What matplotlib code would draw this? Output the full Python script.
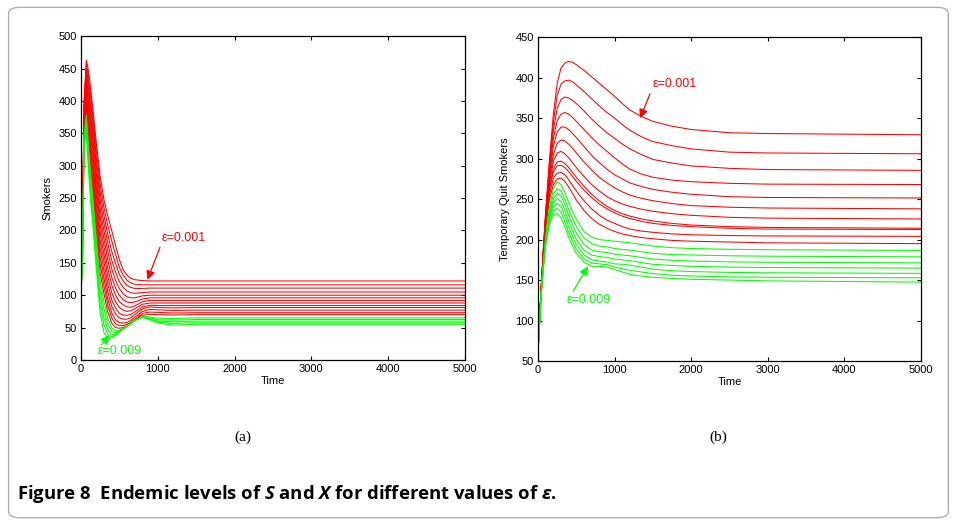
"""
Endemic levels of smokers S and temporary quit smokers X for several epsilon values
"""

import matplotlib
matplotlib.use('Agg')
import matplotlib.pyplot as plt
from matplotlib.patches import FancyBboxPatch

### values ###

# panel (a): smokers, time grid shared by every curve
time_a = [0, 20, 40, 70, 100, 130, 160, 200, 250, 300, 350, 400, 450, 500,
          550, 600, 650, 700, 800, 900, 1000, 1200, 1500, 2000, 5000]

smokers_red = [
    [100, 210, 400, 463, 445, 415, 382, 335, 283, 247, 222, 200, 177, 155, 139, 131, 126, 124, 122.5, 122, 122, 122, 122, 122, 122],
    [100, 206, 396, 456, 436, 405, 371, 324, 271, 235, 207, 184, 163, 143, 131, 123, 119, 117, 116, 116, 116, 116, 116, 116, 116],
    [100, 203, 392, 450, 427, 394, 361, 312, 258, 223, 193, 168, 149, 132, 122, 115, 112, 110.5, 110.5, 111, 111, 111, 111, 111, 111],
    [100, 199, 388, 443, 418, 384, 350, 301, 246, 211, 180, 154, 136, 121, 112, 106.5, 104, 103, 104, 105, 105, 105, 105, 105, 105],
    [100, 196, 384, 437, 409, 373, 339, 289, 233, 199, 167, 141, 123, 110, 102, 97.5, 96, 96, 99, 100, 100, 100, 100, 100, 100],
    [100, 192, 380, 430, 399, 363, 329, 278, 221, 187, 154, 128, 111, 100, 93, 89.5, 88.5, 89.5, 94, 96, 96, 96, 96, 96, 96],
    [100, 189, 376, 424, 390, 353, 318, 266, 209, 175, 141, 116, 100, 90, 85, 82, 81.5, 83.5, 90, 92, 92, 92, 92, 92, 92],
    [100, 185, 371, 417, 381, 342, 307, 255, 196, 163, 129, 104, 90, 81, 77, 75, 76, 79, 86, 88, 88, 88, 88, 88, 88],
    [100, 182, 367, 411, 372, 332, 297, 243, 184, 151, 117, 93, 80, 72, 69.5, 69, 70.5, 74, 82, 84.5, 84, 84, 84, 84, 84],
    [100, 178, 363, 404, 363, 321, 286, 232, 171, 138, 105, 83, 71, 65, 63, 63, 65.5, 70, 79, 82, 81, 80.5, 81, 81, 81],
    [100, 175, 359, 398, 354, 311, 275, 220, 159, 126, 94, 73, 62, 58, 57, 58, 61.5, 66, 75, 78, 77.5, 76.5, 77, 77, 77],
    [100, 171, 355, 391, 345, 301, 265, 209, 147, 114, 84, 65, 56, 53, 53, 55, 58.5, 63, 72, 74, 73.5, 72.5, 73, 73, 73],
    [100, 168, 351, 385, 336, 290, 254, 197, 134, 102, 74, 57, 50, 49, 50, 53, 57, 62, 69, 70.5, 70, 69.5, 70, 70, 70],
]

smokers_green = [
    [100, 164, 347, 378, 327, 280, 243, 186, 122, 90, 64, 50, 45, 46, 48.5, 52, 56.5, 61, 67, 66.5, 64.5, 64, 65, 65, 65],
    [100, 161, 343, 372, 317, 269, 233, 174, 109, 78, 55, 44, 42, 45, 48, 52, 56.5, 61, 66.5, 65, 62, 61.5, 62.5, 62.5, 62.5],
    [100, 157, 339, 365, 308, 259, 222, 163, 97, 66, 46, 39, 40, 44, 48, 52, 56.5, 61, 66, 64, 60, 59, 60, 60, 60],
    [100, 154, 334, 359, 299, 249, 212, 151, 84, 54, 39, 36, 39, 43.5, 48, 52.5, 57, 61.5, 66, 63, 58.5, 56.5, 57.5, 57.5, 57.5],
    [100, 150, 330, 352, 290, 238, 201, 140, 72, 42, 34, 34, 38, 43, 48, 53, 57.5, 62, 66, 62, 57, 54, 55, 55, 55],
]

# panel (b): temporary quit smokers
time_b = [0, 40, 70, 100, 150, 200, 250, 300, 350, 400, 450, 500, 600, 700,
          800, 900, 1000, 1100, 1200, 1350, 1500, 1750, 2000, 2500, 3000, 5000]

quit_red = [
    [62, 140, 190, 235, 300, 355, 393, 412, 418, 420, 419, 416, 409, 401, 393, 385, 377, 368, 360, 352, 346, 340, 336, 332, 331, 329.5],
    [62, 140, 189, 233, 295, 345, 378, 392, 396, 397, 395, 391, 383, 374, 365, 357, 350, 342, 335, 327, 321, 316, 312, 308, 307, 306],
    [62, 139, 188, 231, 290, 335, 362, 373, 376, 375, 372, 368, 359, 349, 340, 332, 325, 318, 312, 305, 299, 294.5, 291, 288, 286.5, 285.5],
    [62, 139, 187, 229, 285, 325, 347, 355, 357, 355, 351, 346, 336, 326, 317, 309, 301, 293.5, 287, 281, 277, 273.5, 271.5, 269.5, 268.5, 268],
    [62, 138, 186, 227, 280, 315, 333, 339, 339, 336, 331, 326, 315, 304, 295, 287, 280, 275, 270, 265.5, 262, 258.5, 256, 253, 252, 251.4],
    [62, 138, 185, 225, 275, 305, 319, 323, 322, 318, 313, 307, 296, 286, 277, 270, 264, 259, 255, 251, 248, 244.5, 242, 240, 239, 238],
    [62, 137, 184, 223, 270, 297, 307, 309, 306, 301, 295, 289, 278, 268, 260, 253, 248, 244, 241, 237.5, 235, 232, 230, 227.5, 226.5, 225.5],
    [62, 137, 183, 221, 265, 288, 296, 297, 294, 289, 283, 277, 266, 256, 248, 241, 236, 232, 229, 225.5, 223, 220, 218, 216, 215, 214],
    [62, 136, 182, 220, 262, 284, 291, 292, 289, 284, 278, 272, 261, 252, 244, 238, 233, 229, 226, 222.5, 220, 217.5, 216, 214, 213, 212.5],
    [62, 136, 180, 218, 256, 276, 282, 283, 280, 274, 267, 260, 248, 238, 230, 224, 220, 216, 213, 210.5, 209, 207, 206, 205, 204.5, 204],
    [62, 135, 178, 215, 250, 268, 275, 276, 272, 265, 257, 249, 236, 226, 219, 214, 210, 207, 205, 202.5, 201, 199, 198, 197, 196, 195],
]

quit_green = [
    [62, 133, 171, 204, 240, 263, 271, 268, 258, 246, 235, 225, 210, 203, 200, 199, 198, 197, 196, 194, 192, 190, 189, 188, 187.5, 186.6],
    [62, 133, 170, 202, 236, 256, 263, 260, 250, 237, 226, 216, 202, 195, 192, 191, 189, 188, 187, 185, 183, 181.5, 181, 180, 179.5, 178.7],
    [62, 132, 169, 200, 232, 250, 257, 254, 243, 230, 218, 208, 194, 187, 185, 184, 182, 181, 180, 178, 176, 174.5, 173.5, 172.5, 172, 171.3],
    [62, 132, 168, 198, 229, 245, 251, 247, 236, 223, 211, 200, 187, 181, 179, 178, 176, 175, 174, 171.5, 169.5, 168, 167, 166, 165.5, 164.8],
    [62, 131, 167, 196, 226, 240, 245, 241, 229, 216, 204, 194, 181, 175, 173.5, 172.5, 170, 169.5, 168.5, 166, 163.5, 161.5, 160.5, 159.5, 159, 158.3],
    [62, 131, 166, 195, 223, 235, 238.5, 234, 222, 209, 198, 188, 176, 171, 170, 169, 166, 164, 162, 160, 158, 156, 155, 154, 153.5, 152.8],
    [62, 130, 165, 193, 220, 230, 232, 227, 216, 203, 192, 183, 172, 167, 167, 166, 163, 160, 157, 155, 153.5, 152, 151, 150, 149, 147.5],
]

x_ticks = [0, 1000, 2000, 3000, 4000, 5000]
ya_ticks = list(range(0, 501, 50))
yb_ticks = list(range(50, 451, 50))

RED = '#ff0000'
GREEN = '#00ff00'
LW = 0.75


def style_axes(ax, yticks):
    ax.set_xlim(0, 5000)
    ax.set_xticks(x_ticks)
    ax.set_yticks(yticks)
    ax.set_ylim(yticks[0], yticks[-1])
    ax.tick_params(direction='in', top=True, right=True, labelsize=8,
                   length=3, width=0.8, pad=3)
    for sp in ax.spines.values():
        sp.set_linewidth(0.9)
    ax.set_xlabel('Time', fontsize=8, labelpad=1)


def label_arrow(ax, text, color, text_xy, start, tip):
    ax.text(text_xy[0], text_xy[1], text, color=color, fontsize=9,
            ha='left', va='center')
    ax.annotate('', xy=tip, xytext=start,
                arrowprops=dict(arrowstyle='-|>', color=color, lw=0.9,
                                mutation_scale=13, shrinkA=0, shrinkB=0))


def main():
    plt.rcParams['font.family'] = ['Liberation Sans', 'DejaVu Sans']
    plt.rcParams['mathtext.fontset'] = 'custom'
    plt.rcParams['mathtext.it'] = 'Open Sans:italic:bold'
    plt.rcParams['mathtext.rm'] = 'Open Sans:bold'

    fig = plt.figure(figsize=(9.55, 5.24), dpi=100)

    # rounded frame round the whole figure
    frame = FancyBboxPatch((0.009, 0.012), 0.984, 0.974,
                           boxstyle='round,pad=0,rounding_size=0.012',
                           transform=fig.transFigure, fill=False,
                           edgecolor='#b0b0b0', lw=1.0)
    fig.patches.append(frame)

    # panel (a)
    ax1 = fig.add_axes([0.0848, 0.313, 0.402, 0.618])
    for row in smokers_red:
        ax1.plot(time_a, row, color=RED, lw=LW)
    for row in smokers_green:
        ax1.plot(time_a, row, color=GREEN, lw=LW)
    style_axes(ax1, ya_ticks)
    ax1.set_ylabel('Smokers', fontsize=8, labelpad=4)
    label_arrow(ax1, '\u03b5=0.001', RED, (1055, 188), (1029, 174), (866, 124))
    label_arrow(ax1, '\u03b5=0.009', GREEN, (221, 14), (260, 23), (378, 38))

    # panel (b)
    ax2 = fig.add_axes([0.5634, 0.311, 0.401, 0.618])
    for row in quit_red:
        ax2.plot(time_b, row, color=RED, lw=LW)
    for row in quit_green:
        ax2.plot(time_b, row, color=GREEN, lw=LW)
    style_axes(ax2, yb_ticks)
    ax2.set_ylabel('Temporary Quit Smokers', fontsize=8, labelpad=4)
    label_arrow(ax2, '\u03b5=0.001', RED, (1501, 392), (1462, 380), (1332, 350))
    label_arrow(ax2, '\u03b5=0.009', GREEN, (379, 126), (457, 136), (653, 167))

    # sub-figure letters
    fig.text(243 / 955, 1 - 437 / 524, '(a)', family='Liberation Serif',
             fontsize=11, ha='center', va='center')
    fig.text(718 / 955, 1 - 437 / 524, '(b)', family='Liberation Serif',
             fontsize=11, ha='center', va='center')

    # caption
    fig.text(17 / 955, 1 - 494 / 524,
             r'Figure 8  Endemic levels of $S$ and $X$ for different values of $\epsilon$.',
             family='Open Sans', weight='bold', fontsize=13.3,
             ha='left', va='center')

    fig.savefig('out.png', dpi=100)


if __name__ == '__main__':
    main()

# -fin-
